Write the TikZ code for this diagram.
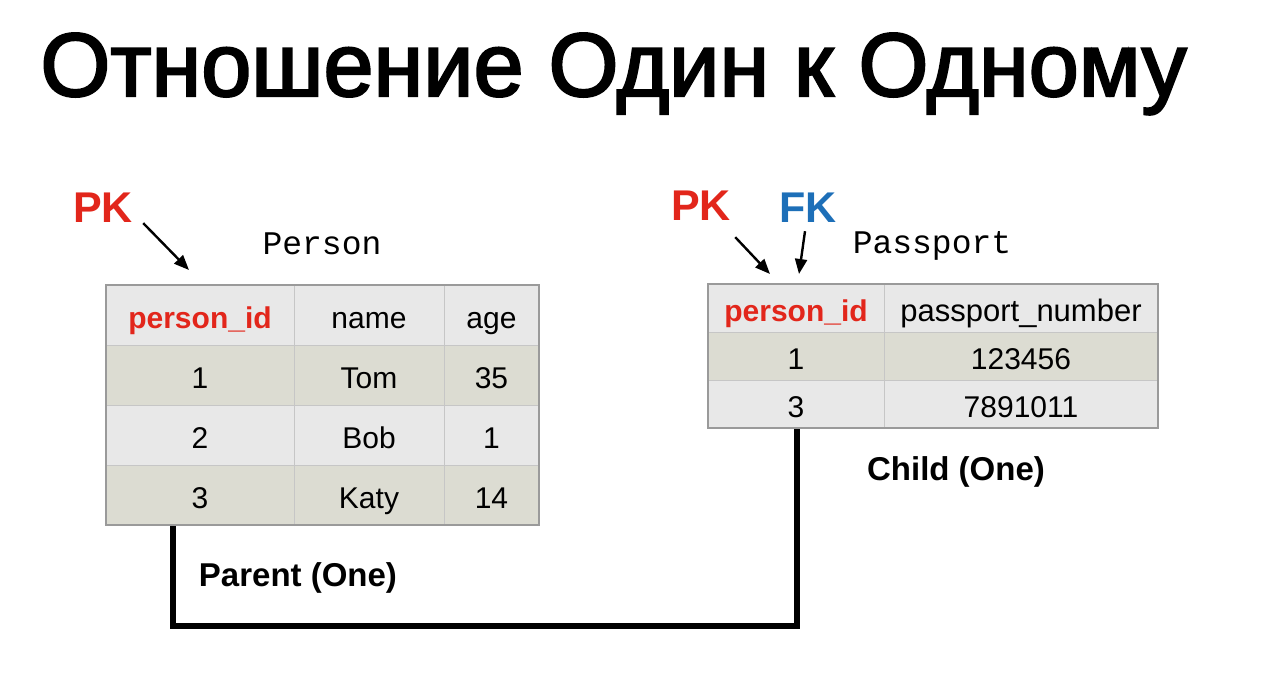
\documentclass[tikz,border=0pt]{standalone}
\usepackage{fontspec}
\setmainfont{Liberation Sans}
\newfontfamily\codefont{Liberation Mono}
\newfontfamily\titlefont[FakeBold=2.5]{Liberation Sans}
\usetikzlibrary{arrows.meta,positioning}

\definecolor{keyred}{HTML}{E2261B}
\definecolor{keyblue}{HTML}{1D6FB8}
\definecolor{headgray}{HTML}{E8E8E8}
\definecolor{rowbeige}{HTML}{DCDCD2}
\definecolor{gridgray}{HTML}{C6C6C6}
\definecolor{framegray}{HTML}{9A9A9A}

\tikzset{
  cell/.style={draw=gridgray, line width=0.5pt, inner sep=0pt,
    text height=15pt, text depth=2pt, font=\fontsize{15}{18}\selectfont},
  idcell/.style={cell, text=keyred, font=\fontsize{15}{18}\selectfont\bfseries},
  frame/.style={draw=framegray, line width=0.6pt, inner sep=0pt},
  keylabel/.style={font=\fontsize{21.5}{24}\selectfont\bfseries, inner sep=0pt},
  tablename/.style={font=\codefont\fontsize{16.5}{20}\selectfont, inner sep=0pt},
  rolelabel/.style={font=\fontsize{16.5}{20}\selectfont\bfseries, inner sep=0pt},
  keyarrow/.style={-{Triangle[length=7.5pt,width=6pt]}, line width=1.2pt},
  link/.style={line width=3pt},
}

\begin{document}
\begin{tikzpicture}[x=0.5pt, y=-0.5pt]
  \useasboundingbox (0,0) rectangle (1281,676);

  % Title
  \node[anchor=base west, inner sep=0pt, font=\titlefont\fontsize{45}{50}\selectfont]
    (title) at (40,96) {Отношение Один к Одному};

  % Connector between the tables
  \node[frame, minimum width=216.5pt, minimum height=120pt] (person) at (322.5,405) {};
  \node[frame, minimum width=225pt, minimum height=72pt] (passport) at (933,356) {};
  \draw[link] ([xshift=34pt]person.south west) -- ++(0,-50pt)
    -| ([xshift=45pt]passport.south west);

  % Person table
  \node[idcell, fill=headgray, minimum width=94pt, minimum height=30pt] (pid0) at (200,315) {person\_id};
  \node[cell, fill=headgray, minimum width=75pt, minimum height=30pt] (pname0) at (369,315) {name};
  \node[cell, fill=headgray, minimum width=47.5pt, minimum height=30pt] (page0) at (491.5,315) {age};
  \foreach \r/\id/\nm/\ag/\bg in {1/1/Tom/35/rowbeige, 2/2/Bob/1/headgray, 3/3/Katy/14/rowbeige} {
    \node[cell, fill=\bg, minimum width=94pt, minimum height=30pt] (pid\r) at (200,{315+60*\r}) {\id};
    \node[cell, fill=\bg, minimum width=75pt, minimum height=30pt] (pname\r) at (369,{315+60*\r}) {\nm};
    \node[cell, fill=\bg, minimum width=47.5pt, minimum height=30pt] (page\r) at (491.5,{315+60*\r}) {\ag};
  }
  \node[frame, minimum width=216.5pt, minimum height=120pt] at (person) {};

  % Passport table
  \node[idcell, fill=headgray, minimum width=88pt, minimum height=24pt] (sid0) at (796,308) {person\_id};
  \node[cell, fill=headgray, minimum width=137pt, minimum height=24pt,
    font=\fontsize{15.5}{18}\selectfont] (snum0) at (1021,308) {passport\_number};
  \foreach \r/\id/\num/\bg in {1/1/123456/rowbeige, 2/3/7891011/headgray} {
    \node[cell, fill=\bg, minimum width=88pt, minimum height=24pt] (sid\r) at (796,{308+48*\r}) {\id};
    \node[cell, fill=\bg, minimum width=137pt, minimum height=24pt] (snum\r) at (1021,{308+48*\r}) {\num};
  }
  \node[frame, minimum width=225pt, minimum height=72pt] at (passport) {};

  % Table names
  \node[tablename] (personname) at (322,244) {Person};
  \node[tablename] (passportname) at (932,246) {Passport};

  % Key labels
  \node[keylabel, text=keyred] (pkperson) at (103,208) {PK};
  \node[keylabel, text=keyred] (pkpass) at (701,206) {PK};
  \node[keylabel, text=keyblue] (fkpass) at (808,208) {FK};
  \coordinate (pkpersontip) at (189,270);
  \coordinate (pkpasstip) at (770,274);
  \coordinate (fkpasstip) at (799,274);
  \draw[keyarrow] ([xshift=5pt]pkperson.south east) -- (pkpersontip);
  \draw[keyarrow] ([shift={(2pt,-8pt)}]pkpass.south east) -- (pkpasstip);
  \draw[keyarrow] ([shift={(-1.5pt,-4pt)}]fkpass.south) -- (fkpasstip);

  % Role labels
  \node[rolelabel] (parentrole) at (298,578) {Parent (One)};
  \node[rolelabel] (childrole) at (956,472) {Child (One)};
\end{tikzpicture}
\end{document}
